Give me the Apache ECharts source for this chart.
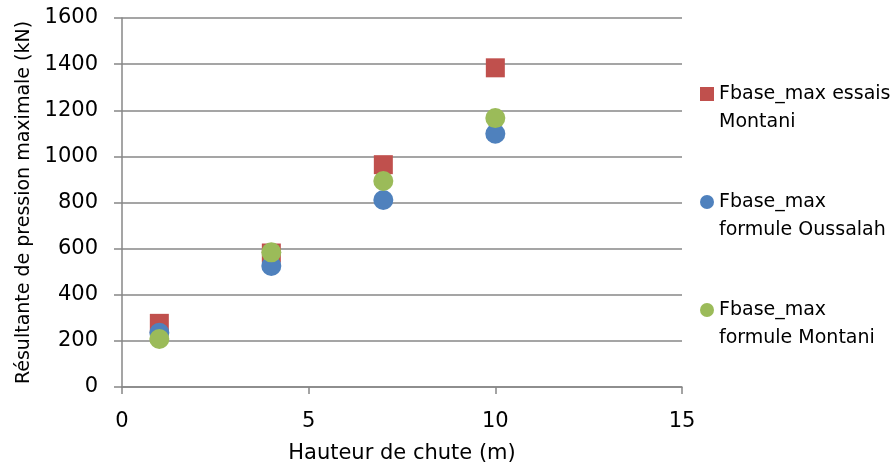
<!DOCTYPE html>
<html>
<head>
<meta charset="utf-8">
<script src="https://cdn.jsdelivr.net/npm/echarts@6/dist/echarts.min.js"></script>
<style>html,body{margin:0;padding:0;background:#fff}#c{width:895px;height:469px}</style>
</head>
<body>
<div id="c"></div>
<script>
const hauteurs = [1, 4, 7, 10];
const essaisMontani = [276, 581, 964, 1384];
const formuleOussalah = [235, 525, 811, 1098];
const formuleMontani = [208, 584, 893, 1166];
const seriesNames = ['Fbase_max essais\nMontani', 'Fbase_max\nformule Oussalah', 'Fbase_max\nformule Montani'];
const colors = ['#C0504D', '#4F81BD', '#9BBB59'];
const xTicks = { min: 0, max: 15, interval: 5 };
const yTicks = { min: 0, max: 1600, interval: 200 };

const font = 'DejaVu Sans';
const axisGrey = '#878787';
const pair = (xs, ys) => xs.map((x, i) => [x, ys[i]]);

const chart = echarts.init(document.getElementById('c'), null, { renderer: 'canvas' });
chart.setOption({
  animation: false,
  color: colors,
  textStyle: { fontFamily: font, color: '#000' },
  grid: { left: 122, right: 213, top: 18, bottom: 82, containLabel: false },
  xAxis: {
    type: 'value', min: xTicks.min, max: xTicks.max, interval: xTicks.interval,
    name: 'Hauteur de chute (m)', nameLocation: 'middle', nameGap: 56,
    nameTextStyle: { fontSize: 21, color: '#000', fontFamily: font },
    axisLine: { show: true, onZero: false, lineStyle: { color: axisGrey, width: 1.5 } },
    axisTick: { show: true, length: 7, lineStyle: { color: axisGrey, width: 1.5 } },
    axisLabel: { fontSize: 21, color: '#000', margin: 24, fontFamily: font, formatter: v => String(v) },
    splitLine: { show: false }
  },
  yAxis: {
    type: 'value', min: yTicks.min, max: yTicks.max, interval: yTicks.interval,
    name: 'Résultante de pression maximale (kN)', nameLocation: 'middle', nameGap: 76,
    nameTextStyle: { fontSize: 19, color: '#000', fontFamily: font },
    axisLine: { show: true, lineStyle: { color: axisGrey, width: 1.5 } },
    axisTick: { show: true, length: 8, lineStyle: { color: axisGrey, width: 1.5 } },
    axisLabel: { fontSize: 21, color: '#000', margin: 24, fontFamily: font, formatter: v => String(v) },
    splitLine: { show: true, lineStyle: { color: axisGrey, width: 1.5 } }
  },
  legend: {
    orient: 'vertical', left: 700, top: 52, padding: 0,
    itemWidth: 14, itemHeight: 14, itemGap: 24,
    formatter: n => '\n' + n,
    textStyle: { fontSize: 19, lineHeight: 28, color: '#000', fontFamily: font },
    data: [
      { name: seriesNames[0], icon: 'rect' },
      { name: seriesNames[1], icon: 'circle' },
      { name: seriesNames[2], icon: 'circle' }
    ]
  },
  series: [
    { name: seriesNames[0], type: 'scatter', symbol: 'rect', symbolSize: 19, data: pair(hauteurs, essaisMontani), itemStyle: { color: colors[0], opacity: 1 }, z: 2 },
    { name: seriesNames[1], type: 'scatter', symbol: 'circle', symbolSize: 20, data: pair(hauteurs, formuleOussalah), itemStyle: { color: colors[1], opacity: 1 }, z: 3 },
    { name: seriesNames[2], type: 'scatter', symbol: 'circle', symbolSize: 20, data: pair(hauteurs, formuleMontani), itemStyle: { color: colors[2], opacity: 1 }, z: 4 }
  ]
});
</script>
</body>
</html>
